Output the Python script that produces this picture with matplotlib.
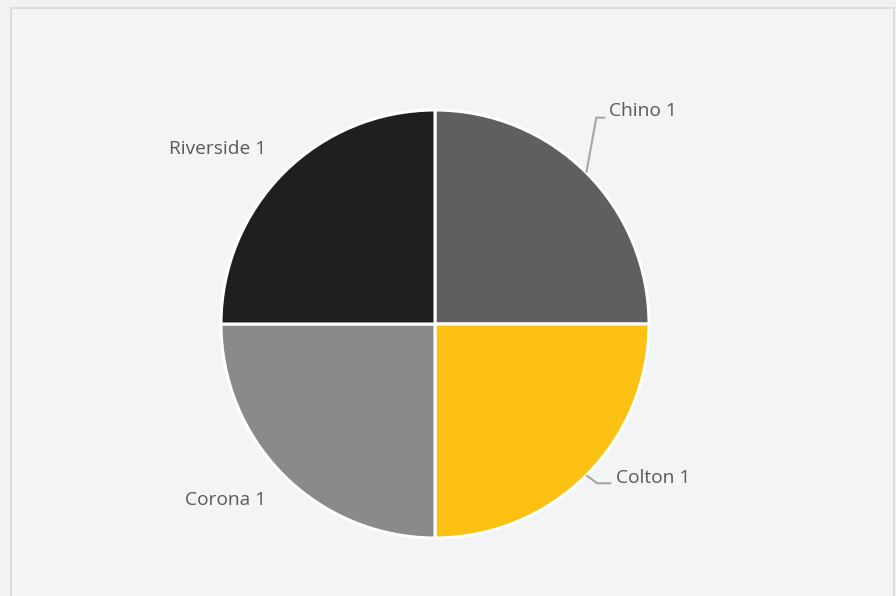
import numpy as np
import matplotlib.pyplot as plt
from matplotlib.patches import Rectangle

# Data
labels = ["Chino 1", "Colton 1", "Corona 1", "Riverside 1"]
values = [1, 1, 1, 1]
colors = ["#5f5f5f", "#fcc113", "#8a8a8a", "#1f1f1f"]

W, H = 896, 596
cx, cy, R = 435, H - 324, 214

fig = plt.figure(figsize=(W / 100, H / 100), dpi=100, facecolor="#f1f2f4")
ax = fig.add_axes([0, 0, 1, 1])

# chart area box
ax.add_patch(Rectangle((11, -10), 883, H - 8 + 10, facecolor="#f3f4f6",
                       edgecolor="#dcdedc", linewidth=1.5, zorder=0))

wedges, _ = ax.pie(values, colors=colors, startangle=90, counterclock=False,
                   center=(cx, cy), radius=R, frame=True,
                   wedgeprops=dict(edgecolor="white", linewidth=2.2))
ax.set_xlim(0, W)
ax.set_ylim(0, H)
ax.set_aspect("equal")
ax.axis("off")

font = dict(family=["Open Sans", "DejaVu Sans"], fontsize=13.8, color="#595959")
leader = dict(color="#a6a6a6", linewidth=1.5, solid_capstyle="butt")

for w, lab in zip(wedges, labels):
    mid = np.deg2rad((w.theta1 + w.theta2) / 2)
    ex, ey = cx + R * np.cos(mid), cy + R * np.sin(mid)
    if lab == "Chino 1":
        ax.plot([ex, ex + 10, ex + 19], [ey, ey + 55, ey + 55], **leader)
        ax.text(ex + 23, ey + 62, lab, ha="left", va="center", **font)
    elif lab == "Colton 1":
        ax.plot([ex, ex + 11, ex + 25], [ey, ey - 8, ey - 8], **leader)
        ax.text(ex + 30, ey - 3, lab, ha="left", va="center", **font)
    elif lab == "Riverside 1":
        ax.text(ex - 17, ey + 24, lab, ha="right", va="center", **font)
    else:
        ax.text(ex - 18, ey - 25, lab, ha="right", va="center", **font)

fig.savefig("out.png", dpi=100, facecolor=fig.get_facecolor())
